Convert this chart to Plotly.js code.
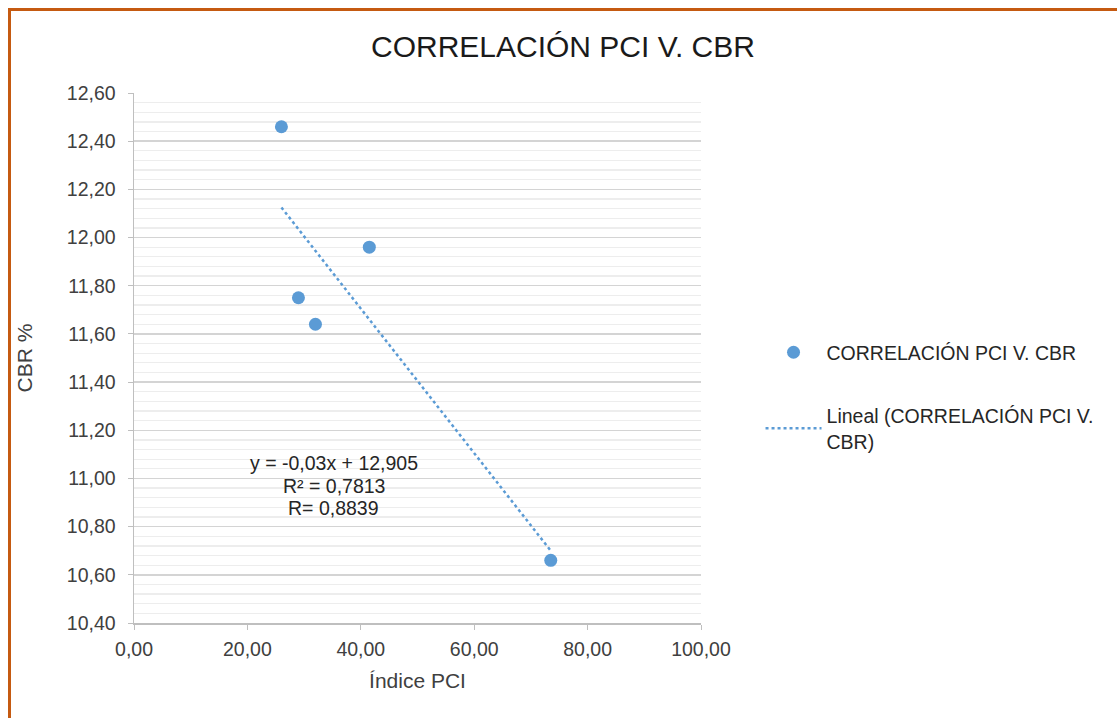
<!DOCTYPE html>
<html>
<head>
<meta charset="utf-8">
<script src="https://cdn.plot.ly/plotly-3.0.1.min.js"></script>
<style>
  html, body { margin: 0; padding: 0; background: #fff; }
  #wrap { position: relative; width: 1117px; height: 718px; overflow: hidden; }
  #chart { position: absolute; left: 0; top: 0; width: 1117px; height: 718px; }
  #frame { position: absolute; left: 8px; top: 8px; width: 1120px; height: 720px;
           border-left: 3px solid #C55A11; border-top: 3px solid #C55A11; pointer-events: none; }
</style>
</head>
<body>
<div id="wrap">
  <div id="chart"></div>
  <div id="frame"></div>
</div>
<script>
// Data
const pciIndex = [26.0, 41.5, 29.0, 32.0, 73.5];
const cbrValues = [12.46, 11.96, 11.75, 11.64, 10.66];

// Linear trendline endpoints as drawn in the reference (y = -0,03x + 12,905)
const trendX = [26.0, 73.5];
const trendY = [12.125, 10.70];

const seriesName = 'CORRELACIÓN PCI V. CBR';
const trendName = 'Lineal (CORRELACIÓN PCI V.<br>CBR)';
const equationLines = ['y = -0,03x + 12,905', 'R² = 0,7813', 'R= 0,8839'];

const xTickVals = [0, 20, 40, 60, 80, 100];
const yTickVals = [10.4, 10.6, 10.8, 11.0, 11.2, 11.4, 11.6, 11.8, 12.0, 12.2, 12.4, 12.6];

const FONT = 'Liberation Sans, Arial, sans-serif';
const BLUE = '#5B9BD5';
const FS = 19.5;

const traces = [
  {
    x: pciIndex, y: cbrValues, type: 'scatter', mode: 'markers',
    name: seriesName, legendgroup: 'a',
    marker: { color: BLUE, size: 13 },
    hoverinfo: 'skip'
  },
  {
    x: trendX, y: trendY, type: 'scatter', mode: 'lines',
    name: trendName, legendgroup: 'b',
    line: { color: BLUE, width: 2.5, dash: 'dot' },
    hoverinfo: 'skip'
  }
];

const eqAnnotations = equationLines.map((t, i) => ({
  x: 35.2, y: 10.969, xref: 'x', yref: 'y',
  yshift: (1 - i) * 22.5,
  text: t, showarrow: false,
  align: 'center', xanchor: 'center', yanchor: 'middle',
  font: { family: FONT, size: FS, color: '#262626' }
}));

const layout = {
  width: 1117, height: 718,
  margin: { l: 134, r: 416, t: 93, b: 95 },
  paper_bgcolor: 'rgba(0,0,0,0)',
  plot_bgcolor: '#ffffff',
  separators: ',.',
  font: { family: FONT, size: FS, color: '#404040' },
  title: {
    text: 'CORRELACIÓN PCI V. CBR',
    font: { family: FONT, size: 30, color: '#1a1a1a' },
    x: 0.504, xanchor: 'center', y: 0.935, yanchor: 'middle'
  },
  showlegend: true,
  legend: {
    x: 1.105, xanchor: 'left', y: 0.547, yanchor: 'top',
    font: { family: FONT, size: FS, color: '#262626' },
    traceorder: 'grouped', tracegroupgap: 35,
    itemwidth: 56,
    bgcolor: 'rgba(0,0,0,0)'
  },
  xaxis: {
    range: [0, 100], tickvals: xTickVals, tickformat: '.2f',
    showgrid: false, zeroline: false,
    showline: true, linecolor: '#BFBFBF', linewidth: 1.5,
    ticks: 'outside', ticklen: 5, tickcolor: '#BFBFBF',
    ticklabelstandoff: 3,
    tickfont: { family: FONT, size: FS, color: '#404040' },
    title: { text: 'Índice PCI', font: { family: FONT, size: 21, color: '#404040' }, standoff: 14 },
    automargin: false, fixedrange: true
  },
  yaxis: {
    range: [10.4, 12.6], tickvals: yTickVals, tickformat: '.2f',
    showgrid: true, gridcolor: '#D4D4D4', gridwidth: 1.5, zeroline: false,
    showline: true, linecolor: '#BFBFBF', linewidth: 1.5,
    ticks: 'outside', ticklen: 5, tickcolor: '#BFBFBF',
    ticklabelstandoff: 8,
    minor: { dtick: 0.04, tick0: 10.4, showgrid: true, gridcolor: '#EDEDED', gridwidth: 1.3 },
    tickfont: { family: FONT, size: FS, color: '#404040' },
    title: { text: 'CBR %', font: { family: FONT, size: 21, color: '#404040' }, standoff: 28 },
    automargin: false, fixedrange: true
  },
  annotations: eqAnnotations
};

Plotly.newPlot('chart', traces, layout, { displayModeBar: false, staticPlot: true });
</script>
</body>
</html>
